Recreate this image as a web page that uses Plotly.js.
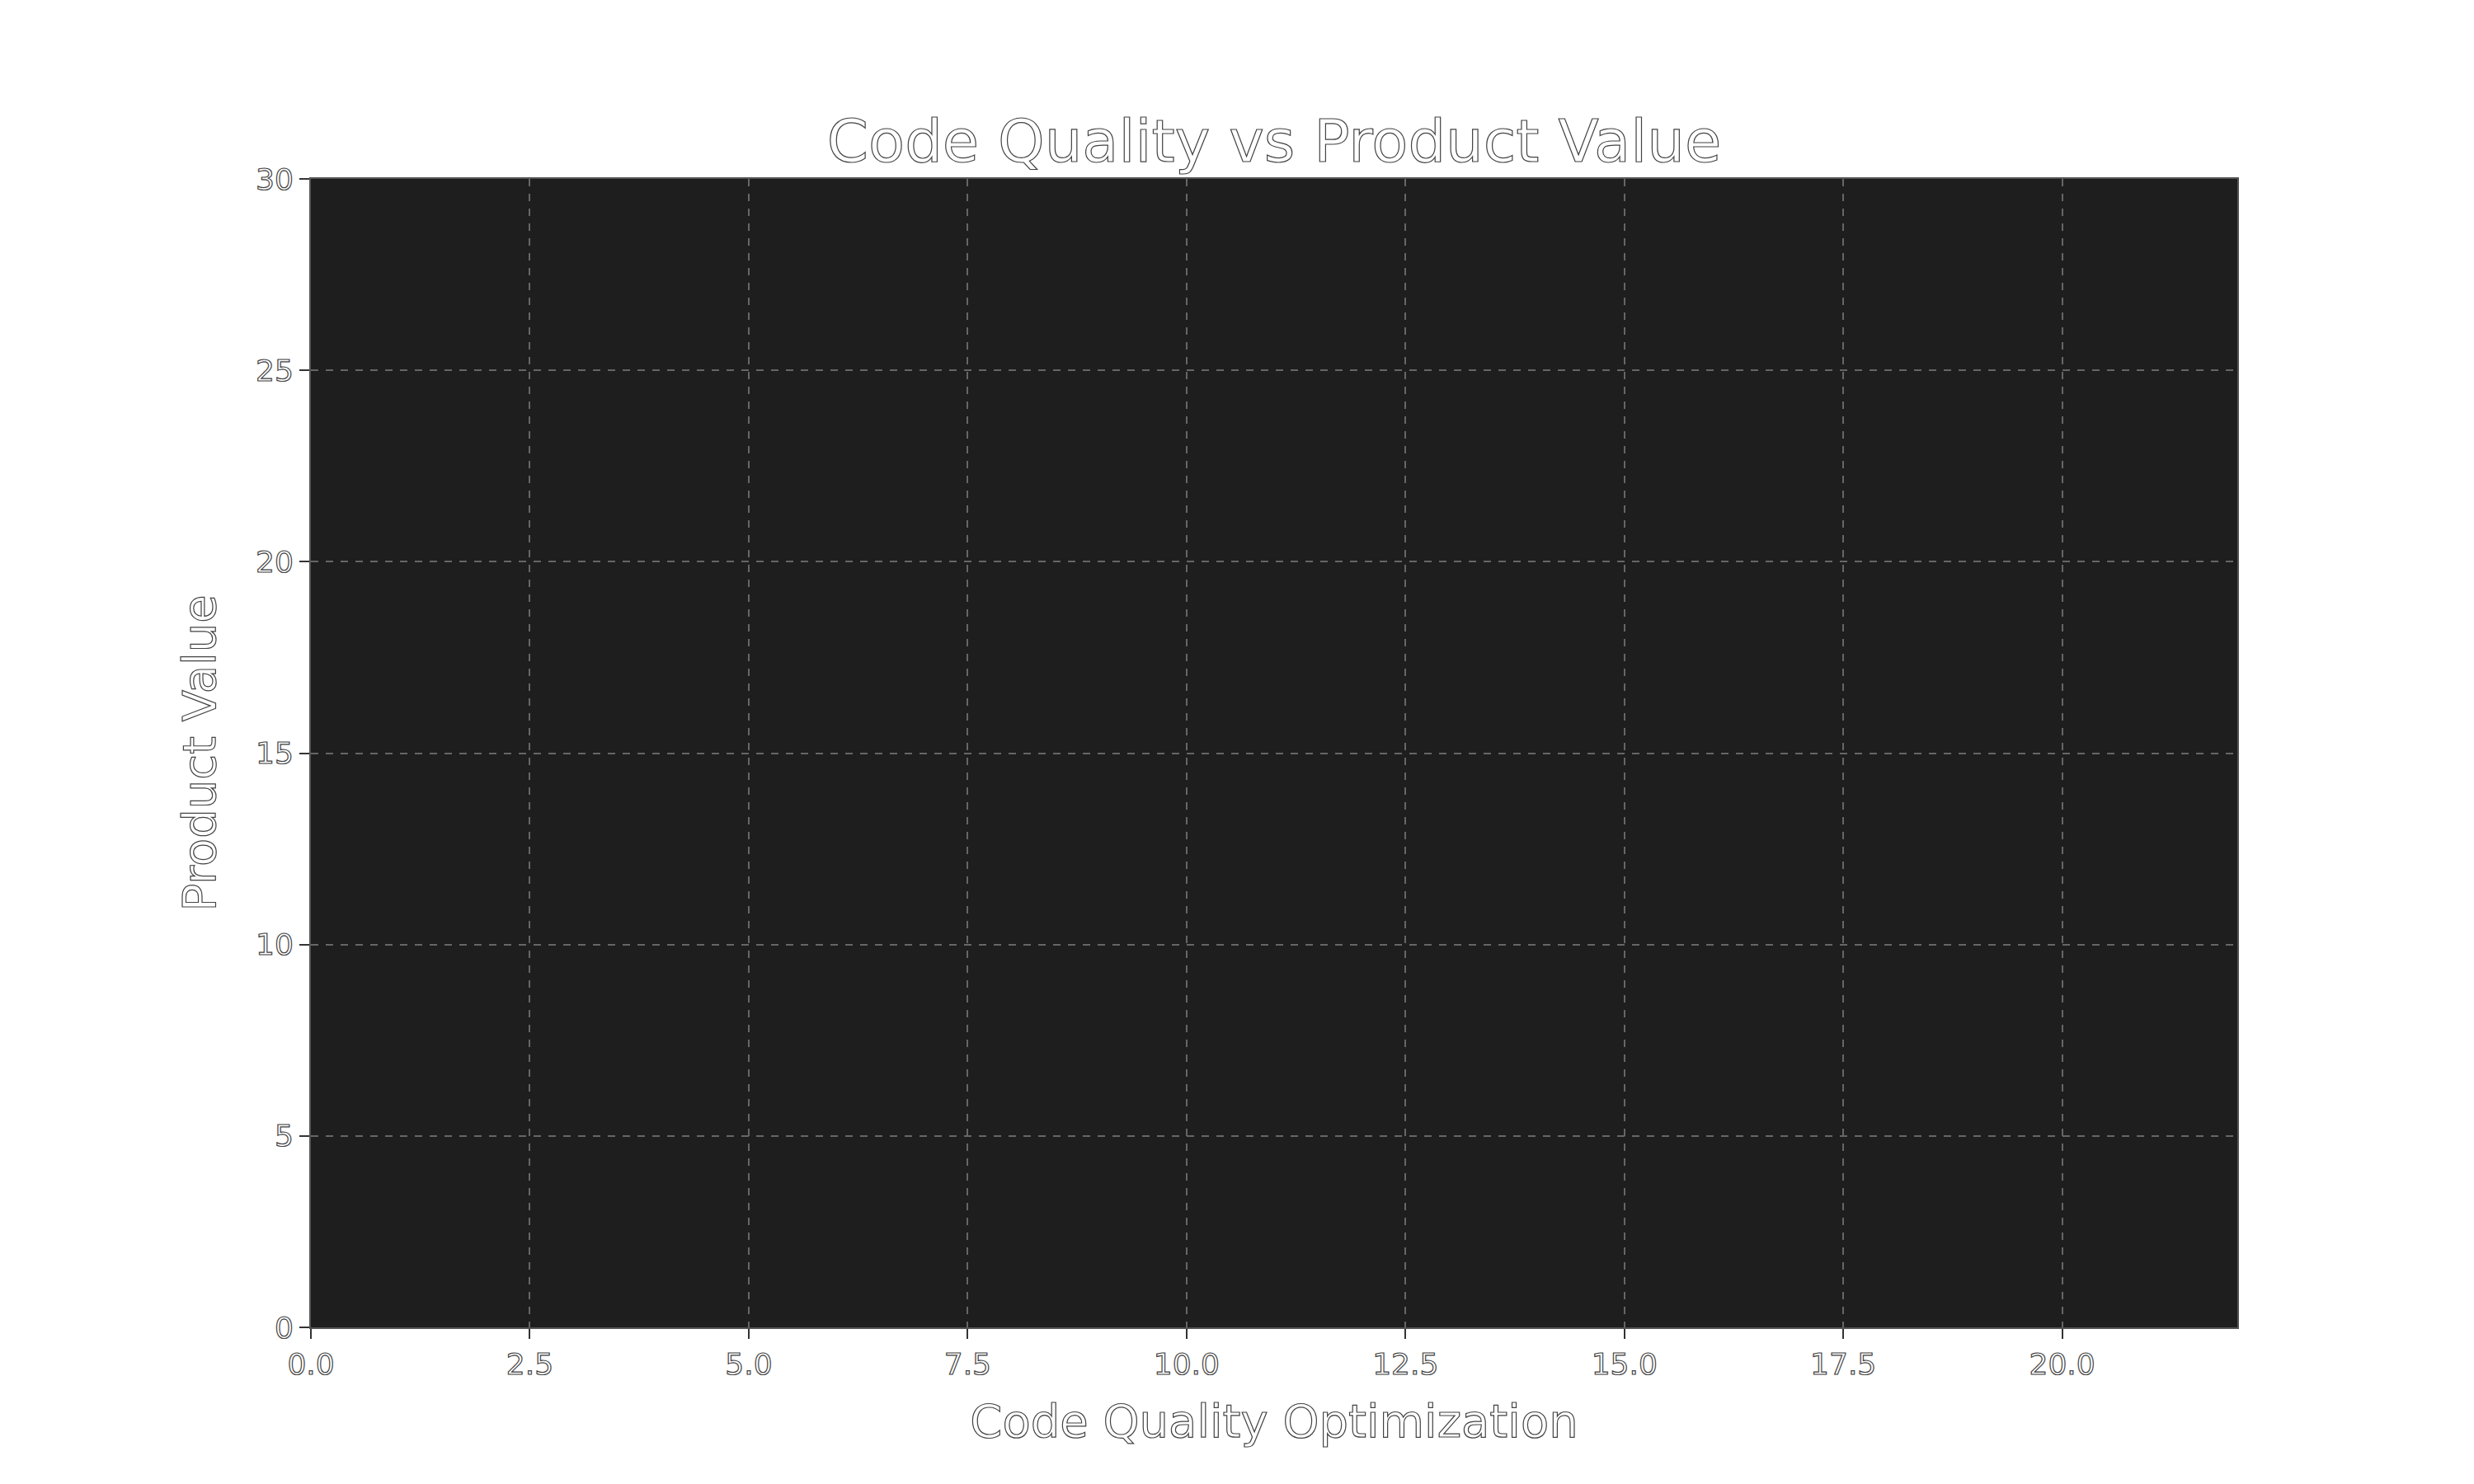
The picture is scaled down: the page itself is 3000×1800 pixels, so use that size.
<!DOCTYPE html>
<html>
<head>
<meta charset="utf-8">
<script src="https://cdn.plot.ly/plotly-3.0.1.min.js"></script>
<style>
  body { margin: 0; background: #fff; }
  #chart text { stroke: #444; stroke-width: 1.2px; paint-order: normal; }
</style>
</head>
<body>
<div id="chart" style="width:3000px;height:1800px;"></div>
<script>
// the reference plot is empty: no points were drawn
var qualityX = [];
var valueY = [];
var xTicks = [0, 2.5, 5, 7.5, 10, 12.5, 15, 17.5, 20];
var xTickText = ['0.0', '2.5', '5.0', '7.5', '10.0', '12.5', '15.0', '17.5', '20.0'];
var yTicks = [0, 5, 10, 15, 20, 25, 30];

var trace = {
    x: qualityX,
    y: valueY,
    type: 'scatter',
    mode: 'markers',
    showlegend: false
};

var axisBase = {
    showgrid: true,
    gridcolor: '#666666',
    gridwidth: 2,
    griddash: 'dash',
    zeroline: false,
    showline: true,
    linecolor: '#555555',
    linewidth: 2,
    mirror: true,
    ticks: 'outside',
    ticklen: 12,
    tickwidth: 2,
    tickcolor: '#333333',
    tickfont: {family: 'DejaVu Sans', size: 36, color: '#ffffff'}
};

var layout = {
    width: 3000,
    height: 1800,
    paper_bgcolor: '#ffffff',
    plot_bgcolor: '#1e1e1e',
    margin: {l: 377, r: 287, t: 217, b: 190},
    title: {text: 'Code Quality vs Product Value', x: 0.515, y: 0.905, yanchor: 'middle',
            font: {family: 'DejaVu Sans', size: 72, color: '#ffffff'}},
    xaxis: Object.assign({}, axisBase, {
        range: [0, 22], tickvals: xTicks, ticktext: xTickText,
        title: {text: 'Code Quality Optimization', standoff: 30,
                font: {family: 'DejaVu Sans', size: 56, color: '#ffffff'}}
    }),
    yaxis: Object.assign({}, axisBase, {
        range: [0, 30], tickvals: yTicks,
        title: {text: 'Product Value', standoff: 30,
                font: {family: 'DejaVu Sans', size: 56, color: '#ffffff'}}
    })
};

Plotly.newPlot('chart', [trace], layout, {staticPlot: true});
</script>
</body>
</html>
